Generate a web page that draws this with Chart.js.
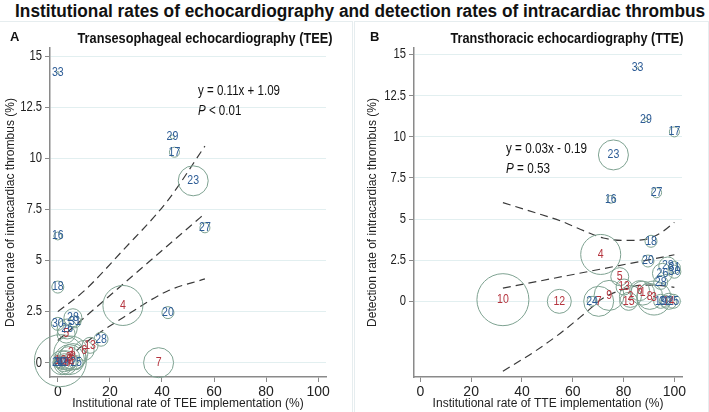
<!DOCTYPE html>
<html>
<head>
<meta charset="utf-8">
<script src="https://cdn.jsdelivr.net/npm/chart.js@4.4.1/dist/chart.umd.min.js"></script>
<style>
    body { margin: 0; background: #fff; width: 709px; height: 412px; overflow: hidden; position: relative; }
    #title { position: absolute; left: 0; top: 1px; width: 709px; text-align: center; font-weight: bold; font-size: 18px;
        font-family: "Liberation Sans", Arial, sans-serif; color: #111; white-space: nowrap; }
    #title span { display: inline-block; transform-origin: 50% 50%; }
    .frame { position: absolute; top: 21px; height: 390px; border: 1px solid #e6edef; }
    .panel { position: absolute; top: 0; width: 353px; height: 412px; }
</style>
</head>
<body>
<div id="title"><span id="tspan">Institutional rates of echocardiography and detection rates of intracardiac thrombus</span></div>
<div class="frame" style="left:-2px;width:353px"></div>
<div class="frame" style="left:354px;width:353px"></div>
<div class="panel" style="left:0"><canvas id="tee"></canvas></div>
<div class="panel" style="left:356px"><canvas id="tte"></canvas></div>
<script>
// hospitals: label, group (r = red label, b = blue label)
const hospital = ["1", "2", "3", "4", "5", "6", "7", "8", "9", "10", "12", "13", "14", "15",
    "16", "17", "18", "19", "20", "23", "24", "25", "26", "27", "28", "28", "29", "30", "31", "32", "33"];
const group = ["r", "r", "r", "r", "r", "r", "r", "r", "r", "r", "r", "r", "r", "r",
    "b", "b", "b", "b", "b", "b", "b", "b", "b", "b", "b", "b", "b", "b", "b", "b", "b"];
// institutional rate of TEE (%) and thrombus detection rate (%)
const teeRate = [3.0, 4.2, 5.0, 25.0, 3.2, 10.1, 38.7, 5.8, 4.5, 1.0, 1.5, 12.4, 4.0, 2.5,
    0.0, 44.8, 0.0, 2.0, 42.3, 52.0, 0.0, 7.0, 3.6, 56.5, 5.8, 16.6, 44.0, 0.0, 6.6, 1.0, 0.0];
const teeDetect = [0.0, 0.25, 0.47, 2.8, 1.4, 0.6, 0.0, 0.3, 0.15, 0.1, 0.0, 0.85, 0.0, 0.0,
    6.2, 10.3, 3.7, 0.0, 2.45, 8.9, 0.0, 0.0, 1.65, 6.6, 2.2, 1.15, 11.05, 1.9, 2.0, 0.0, 14.2];
// institutional rate of TTE (%) and thrombus detection rate (%)
const tteRate = [87.5, 82.7, 92.0, 71.0, 78.5, 86.3, 70.2, 90.3, 74.3, 32.5, 54.7, 80.2, 97.8, 82.0,
    75.0, 100, 90.8, 94.6, 89.6, 76.0, 67.6, 99.6, 95.3, 93.0, 97.4, 94.6, 88.8, 100, 100, 96.4, 85.5];
const tteDetect = [0.5, 0.3, 0.2, 2.85, 1.5, 0.65, 0.0, 0.3, 0.36, 0.1, 0.0, 0.87, 0.0, 0.0,
    6.2, 10.3, 3.65, 0.0, 2.45, 8.9, 0.0, 0.0, 1.7, 6.6, 2.15, 1.15, 11.05, 1.8, 2.05, 0.0, 14.2];
// bubble weight (patient volume)
const weight = [12, 11, 17, 20, 9, 10, 15, 13, 15, 26, 12, 8, 8, 9,
    4, 5, 6, 7, 6, 15, 5, 7, 10, 5, 9, 7, 2, 6.5, 6, 6, 1];

// regression line and 95% CI
const teeFitX = [0, 56.5];
const teeFitY = [1.09, 7.3];
const teeCiX = [0, 10, 25, 42, 56.5];
const teeUpper = [2.5, 3.5, 5.5, 7.9, 10.6];
const teeLower = [-0.32, 0.9, 2.2, 3.5, 4.1];

const tteFitX = [32.5, 100];
const tteFitY = [0.8, 2.83];
const tteCiX = [32.5, 45, 55, 65, 72, 80, 88, 95, 100];
const tteUpper = [6.0, 5.4, 4.9, 4.25, 3.85, 3.7, 3.75, 4.2, 4.8];
const tteLower = [-4.25, -3.05, -1.95, -0.7, 0.2, 0.72, 0.99, 0.95, 0.85];

const xTicks = [0, 20, 40, 60, 80, 100];
const yTicks = [0, 2.5, 5, 7.5, 10, 12.5, 15];

const FONT = '"Liberation Sans", Arial, sans-serif';
const RED = "#b5343e", BLUE = "#2d5c96", RING = "#7ea291", DASH = "#3a3a3a";

Chart.defaults.font.family = FONT;
Chart.defaults.color = "#222";

// squeeze the main title to the reference width
(() => {
    let t = document.getElementById("tspan");
    let w = t.getBoundingClientRect().width;
    t.style.transform = "scaleX(" + (690 / w) + ")";
})();

function bubbles(rate, detect, grp) {
    let pts = [], tags = [];
    hospital.forEach((h, i) => {
        if (group[i] !== grp) return;
        pts.push({ x: rate[i], y: detect[i], r: weight[i] });
        tags.push(h);
    });
    return { pts, tags };
}

function dashed(xs, ys) {
    return {
        type: "line",
        data: xs.map((x, i) => ({ x: x, y: ys[i] })),
        borderColor: DASH, borderWidth: 1.2, borderDash: [8, 5],
        pointRadius: 0, fill: false, cubicInterpolationMode: "monotone"
    };
}

// draw text squeezed horizontally by factor s
function squeezed(ctx, str, x, y, s, align) {
    ctx.save();
    ctx.translate(x, y);
    ctx.scale(s, 1);
    ctx.textAlign = align;
    ctx.fillText(str, 0, 0);
    ctx.restore();
}

const bubbleLabels = {
    id: "bubbleLabels",
    afterDatasetsDraw(chart) {
        const ctx = chart.ctx;
        ctx.save();
        ctx.font = "12px " + FONT;
        ctx.textBaseline = "middle";
        chart.data.datasets.forEach((ds, i) => {
            if (!ds.tags) return;
            ctx.fillStyle = ds.tagColor;
            chart.getDatasetMeta(i).data.forEach((el, j) => {
                squeezed(ctx, ds.tags[j], el.x, el.y, 0.88, "center");
            });
        });
        ctx.restore();
    }
};

const panelText = {
    id: "panelText",
    afterDraw(chart, args, o) {
        const ctx = chart.ctx;
        ctx.save();
        ctx.textBaseline = "middle";
        // y tick labels, condensed like the original
        const ys = chart.scales.y;
        ctx.font = "14px " + FONT;
        ctx.fillStyle = "#222";
        yTicks.forEach(v => {
            squeezed(ctx, String(v), ys.right - 8, ys.getPixelForValue(v), 0.8, "right");
        });
        ctx.fillStyle = "#111";
        ctx.font = "bold 13px " + FONT;
        squeezed(ctx, o.letter, o.letterX, 37, 1, "left");
        ctx.font = "bold 15px " + FONT;
        let sw = ctx.measureText(o.subtitle).width;
        squeezed(ctx, o.subtitle, o.subX, 39, o.subW / sw, "center");
        ctx.font = "15px " + FONT;
        let s = o.eqW / ctx.measureText(o.eq).width;
        squeezed(ctx, o.eq, o.eqX, o.eqY, s, "left");
        ctx.font = "italic 15px " + FONT;
        squeezed(ctx, "P", o.eqX, o.eqY + 20, s, "left");
        let w = ctx.measureText("P").width * s;
        ctx.font = "15px " + FONT;
        squeezed(ctx, o.p, o.eqX + w, o.eqY + 20, s, "left");
        ctx.restore();
    }
};

function makeChart(id, rate, detect, fitX, fitY, ciX, up, lo, xMin, xMax, yMin, xTitle, pad, yWidth, text) {
    let red = bubbles(rate, detect, "r");
    let blue = bubbles(rate, detect, "b");
    let ringStyle = { backgroundColor: "rgba(0,0,0,0)", borderColor: RING, borderWidth: 1, clip: false };
    return new Chart(document.getElementById(id), {
        type: "bubble",
        data: {
            datasets: [
                Object.assign({ data: red.pts, tags: red.tags, tagColor: RED }, ringStyle),
                Object.assign({ data: blue.pts, tags: blue.tags, tagColor: BLUE }, ringStyle),
                dashed(ciX, up),
                dashed(fitX, fitY),
                dashed(ciX, lo)
            ]
        },
        options: {
            responsive: true,
            maintainAspectRatio: false,
            animation: false,
            layout: { padding: pad },
            plugins: {
                legend: { display: false },
                tooltip: { enabled: false },
                panelText: text
            },
            scales: {
                x: {
                    type: "linear", min: xMin, max: xMax,
                    afterBuildTicks: (s) => { s.ticks = xTicks.map(v => ({ value: v })); },
                    afterFit: (s) => { s.height = 35; },
                    ticks: { font: { size: 14 }, padding: 2, color: "#222", callback: v => String(v) },
                    grid: { drawOnChartArea: false, tickLength: 5, tickColor: "#8a8a8a" },
                    border: { color: "#8a8a8a", width: 1.5 },
                    title: { display: true, text: xTitle, font: { size: 12 }, padding: { top: 0, bottom: 1 }, color: "#222" }
                },
                y: {
                    type: "linear", min: yMin, max: 15.4,
                    afterBuildTicks: (s) => { s.ticks = yTicks.map(v => ({ value: v })); },
                    afterFit: (s) => { s.width = yWidth; },
                    ticks: { display: false },
                    grid: { color: "#e2eff0", lineWidth: 1, tickLength: 5, tickColor: "#8a8a8a" },
                    border: { color: "#8a8a8a", width: 1.5 },
                    title: { display: true, text: "Detection rate of intracardiac thrombus (%)", font: { size: 12 }, padding: 0, color: "#222" }
                }
            }
        },
        plugins: [bubbleLabels, panelText]
    });
}

makeChart("tee", teeRate, teeDetect, teeFitX, teeFitY, teeCiX, teeUpper, teeLower,
    -3, 103, -0.7, "Institutional rate of TEE implementation (%)",
    { left: 3, right: 11, top: 48, bottom: 0 }, 47,
    { letter: "A", letterX: 10, subtitle: "Transesophageal echocardiography (TEE)", subX: 205, subW: 255,
      eq: "y = 0.11x + 1.09", eqW: 82, p: " < 0.01", eqX: 198, eqY: 91 });

makeChart("tte", tteRate, tteDetect, tteFitX, tteFitY, tteCiX, tteUpper, tteLower,
    -2.5, 103, -4.6, "Institutional rate of TTE implementation (%)",
    { left: 9, right: 4, top: 48, bottom: 0 }, 49,
    { letter: "B", letterX: 14, subtitle: "Transthoracic echocardiography (TTE)", subX: 211, subW: 233,
      eq: "y = 0.03x - 0.19", eqW: 81, p: " = 0.53", eqX: 150, eqY: 149 });
</script>
</body>
</html>
